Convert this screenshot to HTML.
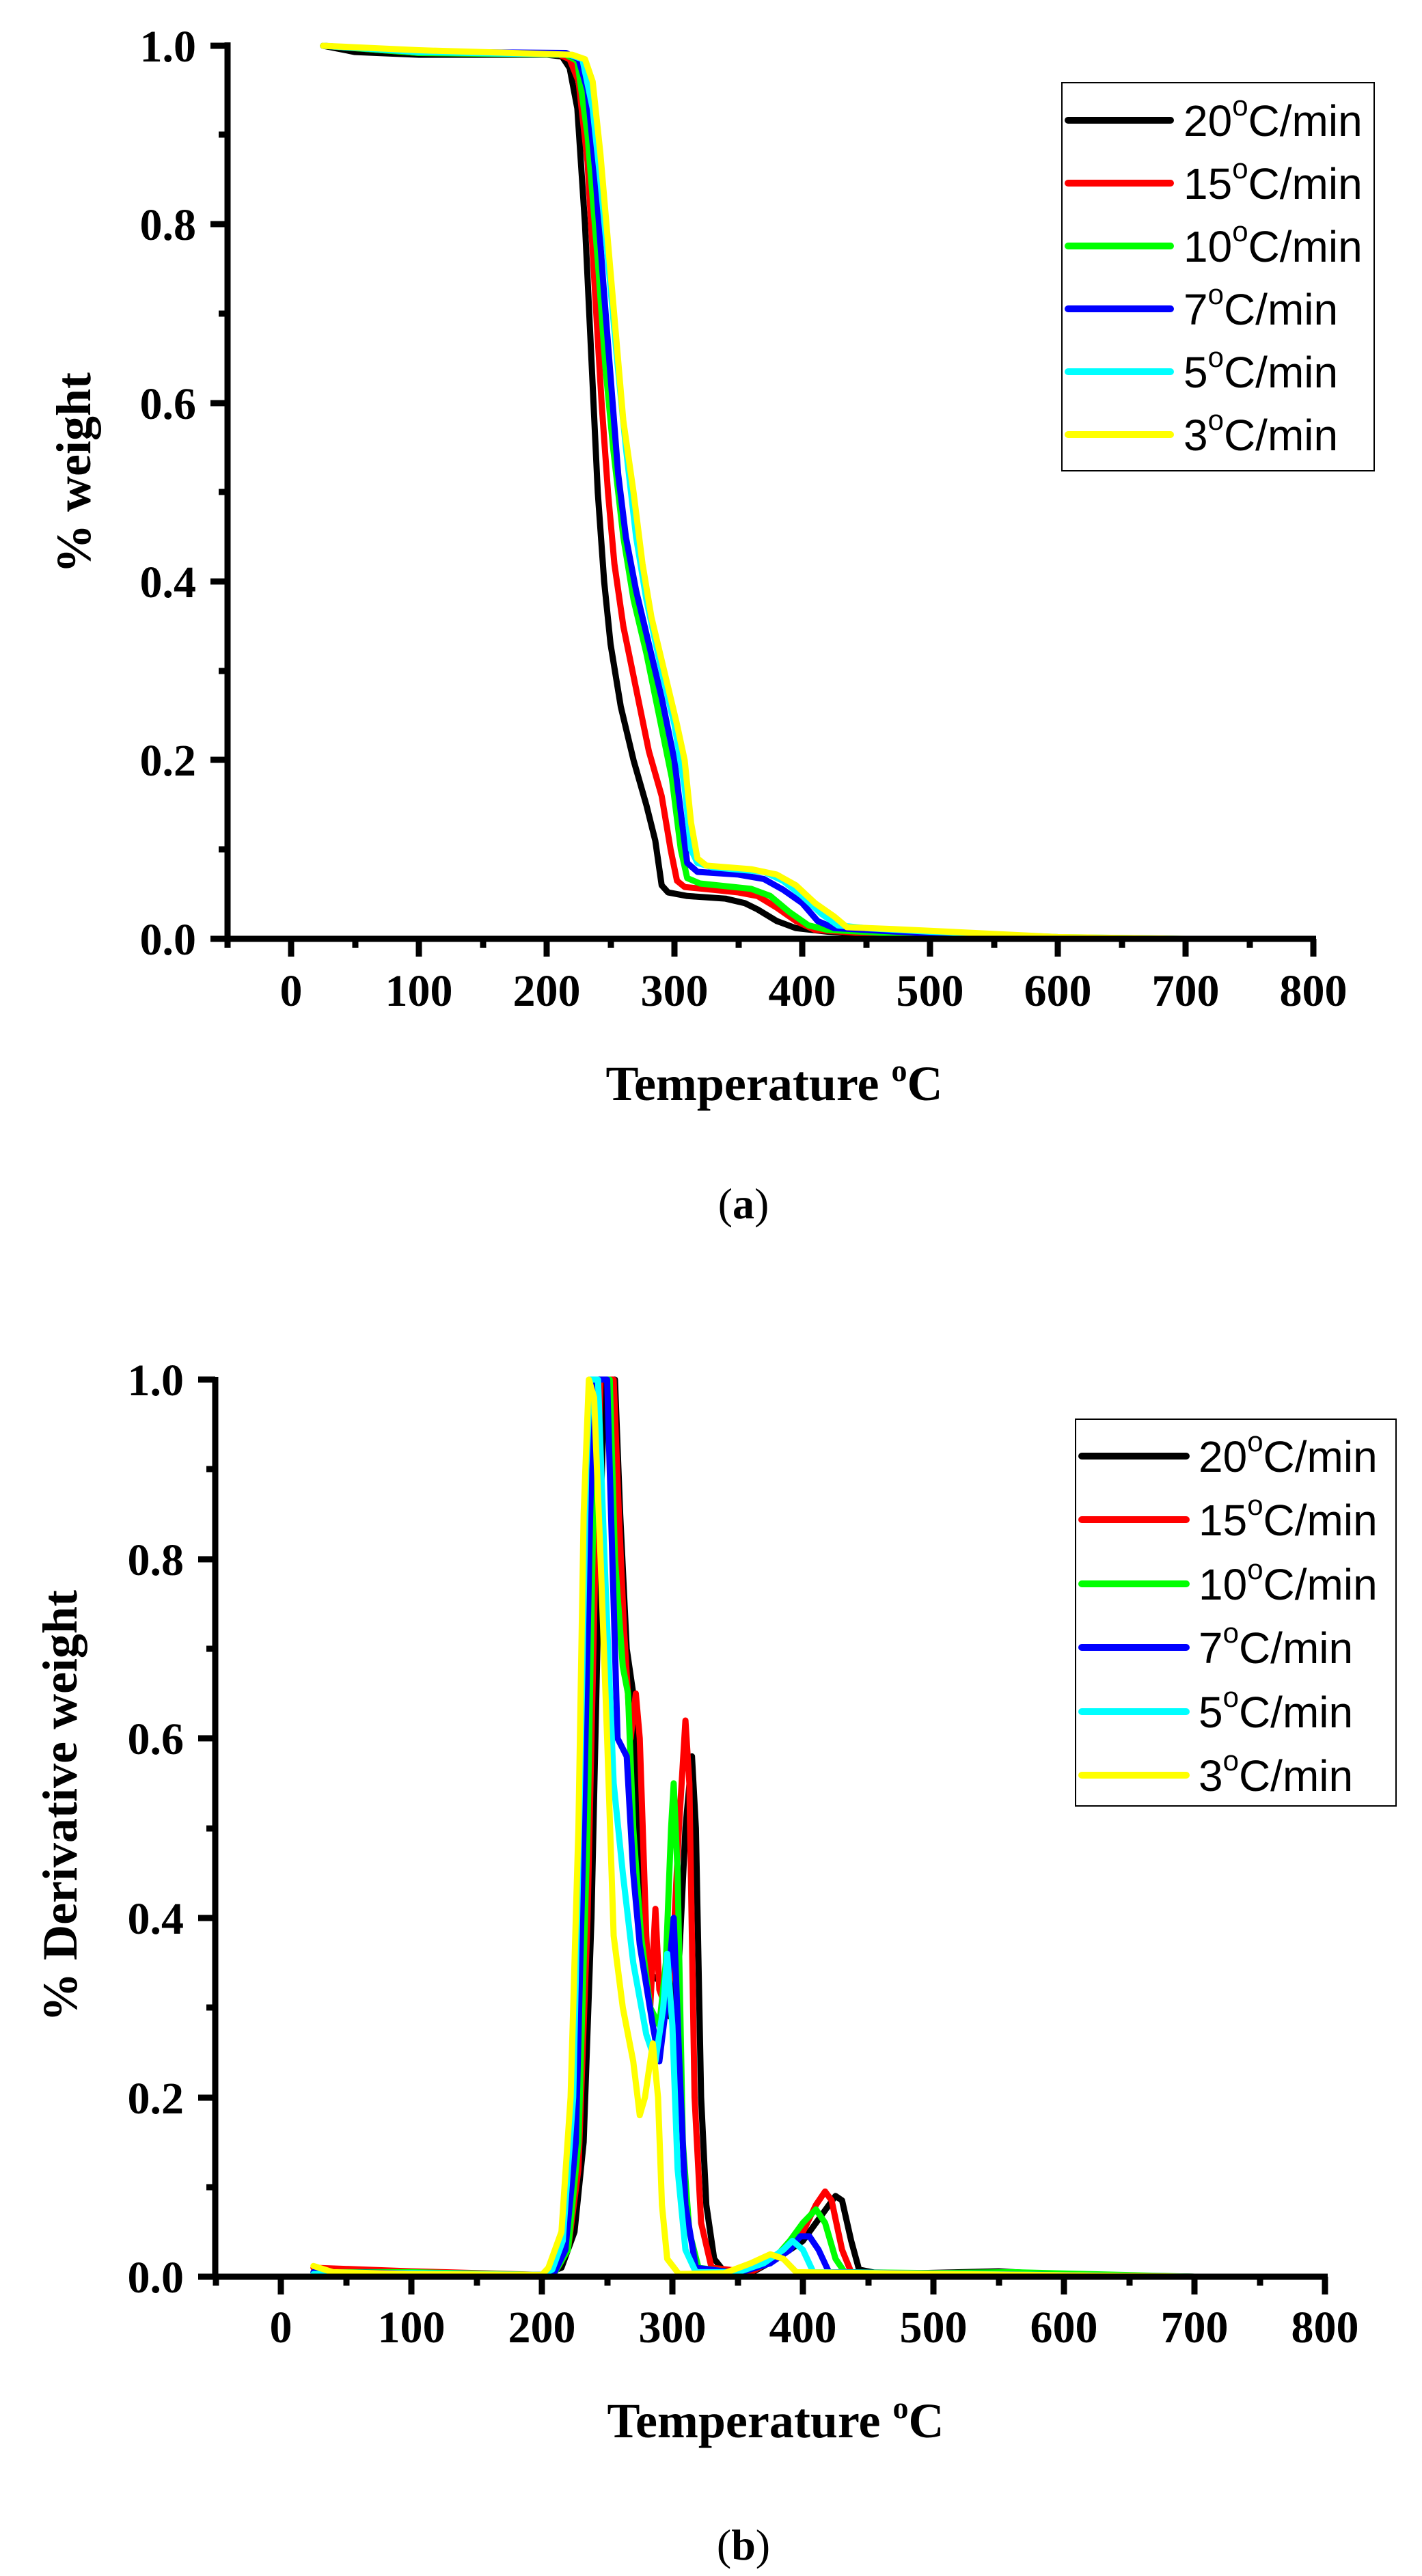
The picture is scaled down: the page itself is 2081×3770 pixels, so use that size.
<!DOCTYPE html>
<html><head><meta charset="utf-8"><style>
html,body{margin:0;padding:0;background:#fff;}
svg{display:block;}
.tl{font-family:"Liberation Serif",serif;font-weight:bold;font-size:66px;}
.ttl{font-family:"Liberation Serif",serif;font-weight:bold;font-size:72px;}
.lg{font-family:"Liberation Sans",sans-serif;font-size:64px;}
.cap{font-family:"Liberation Serif",serif;font-size:64px;}
</style></head><body>
<svg width="2081" height="3770" viewBox="0 0 2081 3770" xmlns="http://www.w3.org/2000/svg">
<rect width="2081" height="3770" fill="#fff"/>

<!-- ===== TOP PLOT ===== -->
<g fill="none" stroke-linejoin="round" stroke-linecap="round">
<g transform="translate(426,1374) scale(1.87,-1307)">
<polyline vector-effect="non-scaling-stroke" stroke="#000" stroke-width="9" points="25,1 50,.993 100,.99 200,.99 212,.988 218,.975 224,.93 230,.8 236,.62 240,.5 245,.4 250,.33 258,.26 268,.2 278,.15 285,.11 290,.06 295,.052 310,.048 340,.045 355,.04 365,.033 380,.02 395,.012 420,.008 460,.004 500,.002 600,0 700,0"/>
<polyline vector-effect="non-scaling-stroke" stroke="#f00" stroke-width="9" points="25,1 100,.992 210,.99 218,.985 225,.96 232,.87 238,.72 243,.6 248,.5 253,.42 260,.35 270,.28 280,.21 290,.16 297,.1 302,.065 308,.058 330,.055 350,.052 365,.048 380,.035 395,.02 410,.01 450,.006 500,.003 600,0 700,0"/>
<polyline vector-effect="non-scaling-stroke" stroke="#0f0" stroke-width="9" points="25,1 100,.992 215,.99 224,.983 232,.9 240,.76 246,.64 252,.55 260,.45 268,.38 278,.32 288,.25 298,.18 305,.1 310,.068 320,.062 360,.056 375,.048 390,.03 405,.015 420,.01 460,.007 520,.003 600,0 695,0"/>
<polyline vector-effect="non-scaling-stroke" stroke="#00f" stroke-width="9" points="25,1 100,.993 215,.992 225,.985 232,.95 238,.86 244,.74 250,.63 256,.52 262,.45 270,.39 280,.33 290,.27 300,.2 306,.13 310,.085 318,.075 350,.072 370,.067 385,.055 400,.04 412,.02 425,.012 450,.01 500,.006 600,.001 695,0"/>
<polyline vector-effect="non-scaling-stroke" stroke="#0ff" stroke-width="9" points="25,1 100,.993 218,.99 228,.985 236,.93 242,.85 248,.76 255,.65 262,.55 270,.45 278,.38 290,.3 300,.24 308,.17 313,.1 318,.085 330,.08 370,.075 385,.065 400,.048 415,.028 428,.015 450,.012 500,.008 600,.002 697,0"/>
<polyline vector-effect="non-scaling-stroke" stroke="#ff0" stroke-width="9" points="25,1 100,.995 220,.99 230,.985 236,.96 242,.88 248,.78 254,.68 260,.58 268,.5 275,.42 282,.36 292,.3 302,.24 308,.2 313,.13 318,.09 325,.082 360,.078 380,.072 395,.06 410,.04 425,.025 435,.013 470,.011 500,.009 600,.002 700,0"/>
</g>
</g>
<!-- axes top -->
<g stroke="#000" stroke-width="9" fill="none">
<line x1="333" y1="62" x2="333" y2="1378"/>
<line x1="329" y1="1374" x2="1926" y2="1374"/>
<!-- y ticks -->
<path d="M308 67H333 M308 328H333 M308 590H333 M308 851H333 M308 1112H333 M308 1374H333"/>
<path d="M320 197H333 M320 459H333 M320 720H333 M320 982H333 M320 1243H333"/>
<!-- x ticks -->
<path d="M426 1374V1400 M613 1374V1400 M800 1374V1400 M987 1374V1400 M1174 1374V1400 M1361 1374V1400 M1548 1374V1400 M1735 1374V1400 M1922 1374V1400"/>
<path d="M333 1374V1387 M520 1374V1387 M707 1374V1387 M894 1374V1387 M1081 1374V1387 M1268 1374V1387 M1455 1374V1387 M1642 1374V1387 M1829 1374V1387"/>
</g>
<g class="tl" text-anchor="end">
<text x="287" y="90">1.0</text><text x="287" y="351">0.8</text><text x="287" y="613">0.6</text><text x="287" y="874">0.4</text><text x="287" y="1135">0.2</text><text x="287" y="1397">0.0</text>
</g>
<g class="tl" text-anchor="middle">
<text x="426" y="1472">0</text><text x="613" y="1472">100</text><text x="800" y="1472">200</text><text x="987" y="1472">300</text><text x="1174" y="1472">400</text><text x="1361" y="1472">500</text><text x="1548" y="1472">600</text><text x="1735" y="1472">700</text><text x="1922" y="1472">800</text>
</g>
<text class="ttl" text-anchor="middle" transform="translate(132,692) rotate(-90)">% weight</text>
<text class="ttl" x="1133" y="1610" text-anchor="middle">Temperature <tspan dy="-28" font-size="46">o</tspan><tspan dy="28">C</tspan></text>
<text class="cap" x="1088" y="1783" text-anchor="middle">(<tspan font-weight="bold">a</tspan>)</text>
<!-- legend top -->
<rect x="1554" y="121" width="457" height="568" fill="#fff" stroke="#000" stroke-width="2"/>
<g stroke-width="10" stroke-linecap="round">
<line x1="1563" y1="176" x2="1713" y2="176" stroke="#000"/>
<line x1="1563" y1="268" x2="1713" y2="268" stroke="#f00"/>
<line x1="1563" y1="360" x2="1713" y2="360" stroke="#0f0"/>
<line x1="1563" y1="452" x2="1713" y2="452" stroke="#00f"/>
<line x1="1563" y1="544" x2="1713" y2="544" stroke="#0ff"/>
<line x1="1563" y1="636" x2="1713" y2="636" stroke="#ff0"/>
</g>
<g class="lg">
<text x="1732" y="199">20<tspan dy="-30" font-size="42">o</tspan><tspan dy="30">C/min</tspan></text>
<text x="1732" y="291">15<tspan dy="-30" font-size="42">o</tspan><tspan dy="30">C/min</tspan></text>
<text x="1732" y="383">10<tspan dy="-30" font-size="42">o</tspan><tspan dy="30">C/min</tspan></text>
<text x="1732" y="475">7<tspan dy="-30" font-size="42">o</tspan><tspan dy="30">C/min</tspan></text>
<text x="1732" y="567">5<tspan dy="-30" font-size="42">o</tspan><tspan dy="30">C/min</tspan></text>
<text x="1732" y="659">3<tspan dy="-30" font-size="42">o</tspan><tspan dy="30">C/min</tspan></text>
</g>

<!-- ===== BOTTOM PLOT ===== -->
<g fill="none" stroke-linejoin="round" stroke-linecap="round">
<g transform="translate(411,3332) scale(1.91,-1313)">
<polyline vector-effect="non-scaling-stroke" stroke="#000" stroke-width="9" points="25,.005 100,.005 180,.002 200,.002 215,.01 225,.05 232,.15 238,.4 244,.8 248,1 256,1 260,.85 265,.7 270,.65 274,.45 280,.34 290,.33 298,.29 305,.35 310,.5 315,.58 318,.5 322,.2 326,.08 332,.02 340,.005 360,.004 380,.02 400,.04 415,.07 425,.09 430,.085 437,.04 443,.008 460,.003 550,.006 600,.002 700,0"/>
<polyline vector-effect="non-scaling-stroke" stroke="#f00" stroke-width="9" points="25,.01 100,.006 200,.002 210,.005 220,.03 228,.12 235,.4 241,.8 245,1 255,1 259,.85 263,.72 268,.6 272,.65 275,.6 280,.38 283,.3 287,.41 290,.32 295,.3 300,.35 305,.5 310,.62 313,.55 317,.2 322,.06 330,.01 360,.005 385,.025 400,.05 410,.08 417,.095 422,.085 430,.03 437,.005 500,.003 700,0"/>
<polyline vector-effect="non-scaling-stroke" stroke="#0f0" stroke-width="9" points="25,.005 100,.005 200,.002 210,.005 220,.03 228,.15 235,.5 240,.9 243,1 252,1 256,.8 262,.68 266,.65 270,.5 276,.38 283,.3 290,.28 295,.35 299,.5 301,.55 304,.45 308,.15 313,.05 320,.01 350,.004 375,.015 390,.04 400,.06 410,.075 417,.06 425,.02 432,.005 500,.004 560,.005 700,0"/>
<polyline vector-effect="non-scaling-stroke" stroke="#00f" stroke-width="9" points="25,.005 100,.004 200,.002 210,.006 218,.03 226,.15 232,.5 237,.85 240,1 250,1 254,.8 258,.6 265,.58 270,.45 275,.37 285,.28 290,.24 295,.3 301,.4 305,.25 310,.08 318,.01 350,.004 375,.015 390,.03 398,.045 405,.045 412,.03 420,.005 700,0"/>
<polyline vector-effect="non-scaling-stroke" stroke="#0ff" stroke-width="9" points="25,.003 100,.004 200,.002 208,.008 216,.04 224,.2 230,.6 234,.9 237,1 243,1 248,.8 255,.55 262,.45 266,.4 270,.35 280,.27 287,.24 293,.3 296,.36 300,.28 304,.12 310,.03 318,.005 350,.005 370,.015 385,.03 392,.04 400,.03 408,.005 700,0"/>
<polyline vector-effect="non-scaling-stroke" stroke="#ff0" stroke-width="9" points="25,.012 40,.005 100,.003 200,.002 205,.01 215,.05 222,.2 228,.5 232,.85 236,1 240,.98 245,.8 250,.6 255,.38 262,.3 270,.24 275,.18 279,.2 285,.26 289,.2 292,.08 296,.02 305,.003 340,.004 360,.015 375,.025 385,.02 395,.005 450,.004 700,0"/>
</g>
</g>
<g stroke="#000" stroke-width="9" fill="none">
<line x1="315" y1="2015" x2="315" y2="3336"/>
<line x1="311" y1="3332" x2="1943" y2="3332"/>
<path d="M290 2019H315 M290 2282H315 M290 2544H315 M290 2807H315 M290 3070H315 M290 3332H315"/>
<path d="M302 2150H315 M302 2413H315 M302 2676H315 M302 2938H315 M302 3201H315"/>
<path d="M411 3332V3358 M602 3332V3358 M793 3332V3358 M984 3332V3358 M1175 3332V3358 M1366 3332V3358 M1557 3332V3358 M1748 3332V3358 M1939 3332V3358"/>
<path d="M316 3332V3345 M507 3332V3345 M698 3332V3345 M889 3332V3345 M1080 3332V3345 M1271 3332V3345 M1462 3332V3345 M1653 3332V3345 M1844 3332V3345"/>
</g>
<g class="tl" text-anchor="end">
<text x="269" y="2042">1.0</text><text x="269" y="2305">0.8</text><text x="269" y="2567">0.6</text><text x="269" y="2830">0.4</text><text x="269" y="3093">0.2</text><text x="269" y="3355">0.0</text>
</g>
<g class="tl" text-anchor="middle">
<text x="411" y="3428">0</text><text x="602" y="3428">100</text><text x="793" y="3428">200</text><text x="984" y="3428">300</text><text x="1175" y="3428">400</text><text x="1366" y="3428">500</text><text x="1557" y="3428">600</text><text x="1748" y="3428">700</text><text x="1939" y="3428">800</text>
</g>
<text class="ttl" text-anchor="middle" transform="translate(112,2643) rotate(-90)">% Derivative weight</text>
<text class="ttl" x="1135" y="3567" text-anchor="middle">Temperature <tspan dy="-28" font-size="46">o</tspan><tspan dy="28">C</tspan></text>
<text class="cap" x="1088" y="3746" text-anchor="middle">(<tspan font-weight="bold">b</tspan>)</text>
<rect x="1574" y="2077" width="469" height="566" fill="#fff" stroke="#000" stroke-width="2"/>
<g stroke-width="10" stroke-linecap="round">
<line x1="1583" y1="2131" x2="1736" y2="2131" stroke="#000"/>
<line x1="1583" y1="2224" x2="1736" y2="2224" stroke="#f00"/>
<line x1="1583" y1="2318" x2="1736" y2="2318" stroke="#0f0"/>
<line x1="1583" y1="2411" x2="1736" y2="2411" stroke="#00f"/>
<line x1="1583" y1="2505" x2="1736" y2="2505" stroke="#0ff"/>
<line x1="1583" y1="2598" x2="1736" y2="2598" stroke="#ff0"/>
</g>
<g class="lg">
<text x="1754" y="2154">20<tspan dy="-30" font-size="42">o</tspan><tspan dy="30">C/min</tspan></text>
<text x="1754" y="2247">15<tspan dy="-30" font-size="42">o</tspan><tspan dy="30">C/min</tspan></text>
<text x="1754" y="2341">10<tspan dy="-30" font-size="42">o</tspan><tspan dy="30">C/min</tspan></text>
<text x="1754" y="2434">7<tspan dy="-30" font-size="42">o</tspan><tspan dy="30">C/min</tspan></text>
<text x="1754" y="2528">5<tspan dy="-30" font-size="42">o</tspan><tspan dy="30">C/min</tspan></text>
<text x="1754" y="2621">3<tspan dy="-30" font-size="42">o</tspan><tspan dy="30">C/min</tspan></text>
</g>
</svg>
</body></html>
